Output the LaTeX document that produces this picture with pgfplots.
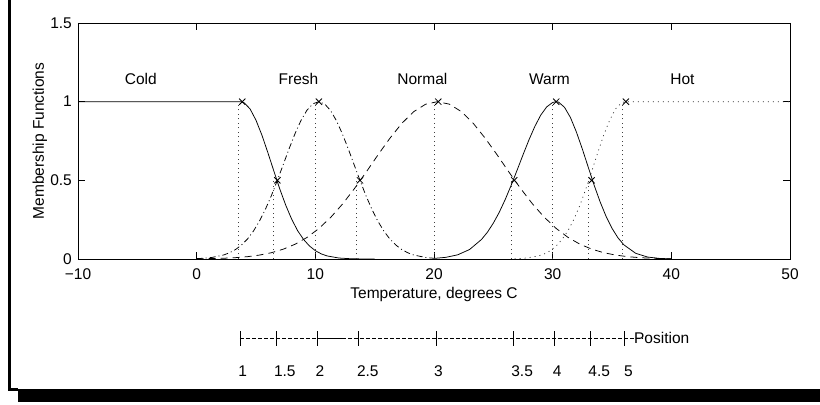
\documentclass[border=0pt]{standalone}
\usepackage{fontspec}
\setmainfont{Liberation Sans}
\usepackage{pgfplots}
\pgfplotsset{compat=1.18}
\newcommand\ff{\fontsize{15.5bp}{18bp}\selectfont}
\begin{document}
\begin{tikzpicture}
\path[use as bounding box] (0,0) rectangle (820bp,405bp);
\fill[black] (8.3bp,14.3bp) rectangle (10.7bp,405bp);
\fill[black] (8.3bp,14.3bp) rectangle (18bp,16.5bp);
\fill[black] (18bp,3.3bp) rectangle (820bp,16bp);
\begin{axis}[
 at={(78bp,146bp)}, anchor=south west, scale only axis, width=712bp, height=236bp,
 xmin=-10, xmax=50, ymin=0, ymax=1.5, clip=false,
 xtick={-10,0,10,20,30,40,50}, xticklabels={−10,0,10,20,30,40,50},
 ytick={0,0.5,1,1.5}, yticklabels={0,0.5,1,1.5},
 tick align=inside, major tick length=7bp,
 axis line style={line width=0.8bp},
 every tick/.style={black, line width=0.8bp},
 xticklabel style={font=\ff, inner sep=0pt, anchor=north, yshift=-9bp},
 yticklabel style={font=\ff, inner sep=0pt, anchor=east, xshift=-6bp},
 xlabel={Temperature, degrees C}, ylabel={Membership Functions},
 xlabel style={font=\ff, inner sep=0pt, at={(axis description cs:0.5,-0.1653)}, anchor=base},
 ylabel style={font=\ff, inner sep=0pt, at={(axis description cs:-0.0478,0.5)}, anchor=base},
]
% Cold
\addplot[black, line width=0.75bp] coordinates {(-10,1) (3.7,1) (4,0.993) (4.5,0.954) (5,0.882) (5.5,0.787) (6,0.676) (6.5,0.560) (7,0.446) (7.5,0.343) (8,0.254) (8.5,0.181) (9,0.125) (9.5,0.083) (10,0.053) (10.5,0.0325) (11,0.0193) (12,0.0061) (13,0.0016) (14,0.0004) (15,0)};
% Fresh
\addplot[black, line width=0.75bp, dash pattern=on 6bp off 3bp on 1bp off 3bp] coordinates {(0,0.0024) (0.28,0.0033) (1.28,0.0097) (2.28,0.0257) (2.78,0.040) (3.28,0.0605) (3.78,0.089) (4.28,0.127) (4.78,0.177) (5.28,0.239) (5.78,0.314) (6.28,0.400) (6.78,0.496) (7.28,0.597) (7.78,0.699) (8.28,0.795) (8.78,0.879) (9.28,0.944) (9.78,0.986) (10.28,1) (10.78,0.986) (11.28,0.944) (11.78,0.879) (12.28,0.795) (12.78,0.699) (13.28,0.597) (13.78,0.496) (14.28,0.400) (14.78,0.314) (15.28,0.239) (15.78,0.177) (16.28,0.127) (16.78,0.089) (17.28,0.0605) (17.78,0.040) (18.28,0.0257) (19.28,0.0097) (20,0.0045)};
% Normal
\addplot[black, line width=0.75bp, dash pattern=on 7bp off 5bp] coordinates {(0,0.0012) (1.3,0.0027) (2.3,0.0049) (3.3,0.0087) (4.3,0.015) (5.3,0.025) (6.3,0.040) (7.3,0.0625) (8.3,0.094) (9.3,0.137) (10.3,0.194) (11.3,0.265) (12.3,0.350) (13.3,0.448) (14.3,0.554) (15.3,0.664) (16.3,0.769) (17.3,0.863) (18.3,0.937) (19.3,0.984) (20.3,1) (21.3,0.984) (22.3,0.937) (23.3,0.863) (24.3,0.769) (25.3,0.664) (26.3,0.554) (27.3,0.448) (28.3,0.350) (29.3,0.265) (30.3,0.194) (31.3,0.137) (32.3,0.094) (33.3,0.0625) (34.3,0.040) (35.3,0.025) (36.3,0.015) (37.3,0.0087) (38.3,0.0049) (39.3,0.0027) (40,0.0017)};
% Warm
\addplot[black, line width=0.75bp] coordinates {(20,0.0038) (21,0.0106) (22,0.0266) (23,0.0605) (24,0.124) (24.5,0.170) (25,0.228) (25.5,0.297) (26,0.378) (26.5,0.468) (27,0.564) (27.5,0.662) (28,0.757) (28.5,0.843) (29,0.915) (29.5,0.967) (30,0.995) (30.3,1) (30.5,0.997) (31,0.964) (31.5,0.899) (32,0.807) (32.5,0.699) (33,0.583) (33.5,0.468) (34,0.363) (34.5,0.271) (35,0.195) (35.5,0.135) (36,0.090) (37,0.036) (38,0.0124) (39,0.0037) (40,0.0009)};
% Hot
\addplot[black!80, line width=0.75bp, dash pattern=on 1bp off 4bp] coordinates {(26.8,0.0016) (27.8,0.0061) (28.8,0.0193) (29.3,0.0325) (29.8,0.053) (30.3,0.083) (30.8,0.125) (31.3,0.181) (31.8,0.254) (32.3,0.343) (32.8,0.446) (33.3,0.560) (33.8,0.676) (34.3,0.787) (34.8,0.882) (35.3,0.954) (35.8,0.993) (36.1,1) (50,1)};
% dotted verticals
\addplot[black!75, line width=0.75bp, dash pattern=on 1bp off 3.5bp, ycomb] coordinates {(3.5,1) (6.5,0.5) (10,1) (13.5,0.5) (20,1) (26.5,0.5) (30,1) (33,0.5) (35.9,1)};
% markers
\addplot[black, only marks, mark=x, mark size=4.4bp, mark options={line width=0.85bp}] coordinates {(3.84,1) (6.8,0.5) (10.3,1) (13.76,0.5) (20.36,1) (26.76,0.5) (30.3,1) (33.28,0.5) (36.17,1)};
% position scale
\addplot[black, line width=0.8bp, dash pattern=on 4bp off 2bp] coordinates {(3.65,-0.506) (37.6,-0.506)};
\addplot[black, line width=0.8bp] coordinates {(10.17,-0.506) (12.33,-0.506)};
\addplot[black, only marks, mark=|, mark size=7.15bp, mark options={line width=0.8bp}] coordinates {(3.65,-0.506) (6.68,-0.506) (10.17,-0.506) (13.65,-0.506) (20.17,-0.506) (26.66,-0.506) (30.11,-0.506) (33.14,-0.506) (36.01,-0.506)};
% labels
\node[font=\ff, anchor=base west, inner sep=0pt] at (axis cs:-6.07,1.106) {Cold};
\node[font=\ff, anchor=base west, inner sep=0pt] at (axis cs:6.9,1.106) {Fresh};
\node[font=\ff, anchor=base west, inner sep=0pt] at (axis cs:16.9,1.106) {Normal};
\node[font=\ff, anchor=base west, inner sep=0pt] at (axis cs:28,1.106) {Warm};
\node[font=\ff, anchor=base west, inner sep=0pt] at (axis cs:39.9,1.106) {Hot};
\node[font=\ff, anchor=base west, inner sep=0pt] at (axis cs:36.85,-0.540) {Position};
\node[font=\ff, anchor=base west, inner sep=0pt] at (axis cs:3.5,-0.744) {1};
\node[font=\ff, anchor=base west, inner sep=0pt] at (axis cs:6.5,-0.744) {1.5};
\node[font=\ff, anchor=base west, inner sep=0pt] at (axis cs:10,-0.744) {2};
\node[font=\ff, anchor=base west, inner sep=0pt] at (axis cs:13.5,-0.744) {2.5};
\node[font=\ff, anchor=base west, inner sep=0pt] at (axis cs:20,-0.744) {3};
\node[font=\ff, anchor=base west, inner sep=0pt] at (axis cs:26.5,-0.744) {3.5};
\node[font=\ff, anchor=base west, inner sep=0pt] at (axis cs:30,-0.744) {4};
\node[font=\ff, anchor=base west, inner sep=0pt] at (axis cs:33,-0.744) {4.5};
\node[font=\ff, anchor=base west, inner sep=0pt] at (axis cs:36,-0.744) {5};
\end{axis}
\end{tikzpicture}
\end{document}
